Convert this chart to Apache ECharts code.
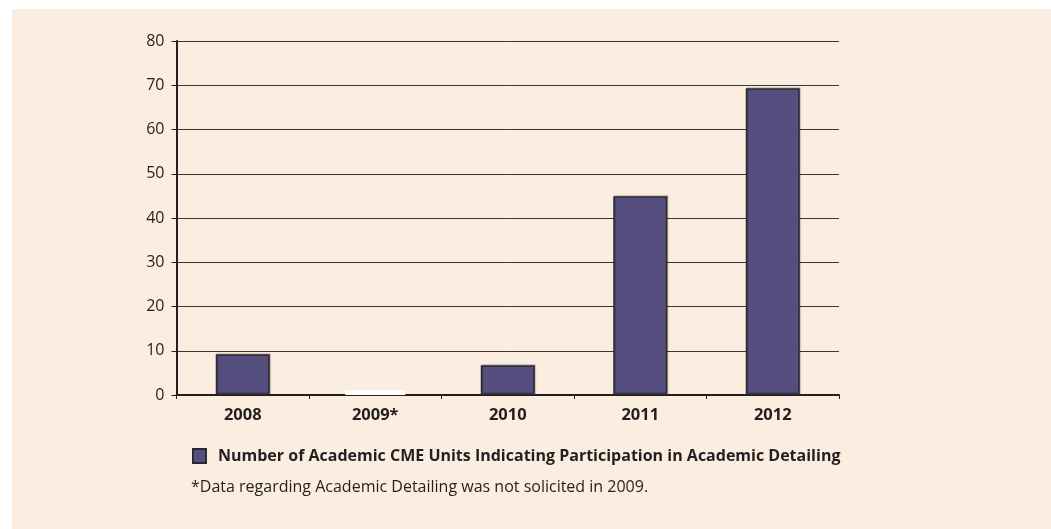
<!DOCTYPE html>
<html>
<head>
<meta charset="utf-8">
<script src="https://cdn.jsdelivr.net/npm/echarts@6/dist/echarts.min.js"></script>
<style>
  html, body { margin: 0; padding: 0; background: #ffffff; }
  #chart { width: 1051px; height: 529px; }
</style>
</head>
<body>
<div id="chart"></div>
<script>
// Academic CME units reporting participation in academic detailing, by year
const years = ['2008', '2009*', '2010', '2011', '2012'];
const units = [9.2, null, 6.7, 44.9, 69.3];
// 2009 was not surveyed; a blank placeholder bar sits on the axis
const placeholder = [null, 1.1, null, null, null];
const yTicks = { min: 0, max: 80, interval: 10 };
const seriesName = 'Number of Academic CME Units Indicating Participation in Academic Detailing';
const footnote = '*Data regarding Academic Detailing was not solicited in 2009.';

const ink = '#231f20';
const barFill = '#544f7e';
const font = 'Open Sans';

const chart = echarts.init(document.getElementById('chart'));
chart.setOption({
  animation: false,
  backgroundColor: '#ffffff',
  textStyle: { fontFamily: font },
  graphic: [
    {
      type: 'rect', z: -10, silent: true,
      shape: { x: 12, y: 9, width: 1051, height: 529 },
      style: { fill: '#fcede1' }
    },
    {
      type: 'text', left: 191, top: 479,
      style: { text: footnote, font: '16px "Open Sans"', fill: ink }
    }
  ],
  legend: {
    data: [seriesName],
    left: 187, top: 443,
    itemWidth: 13, itemHeight: 14, itemGap: 8,
    icon: 'rect',
    textStyle: { fontSize: 16, fontWeight: 'bold', color: ink, fontFamily: font, padding: [0, 0, 0, 7] }
  },
  grid: { left: 176.5, right: 212, top: 41, bottom: 134, containLabel: false },
  xAxis: [
    {
      type: 'category',
      data: years,
      axisLine: { lineStyle: { color: ink, width: 2 } },
      axisTick: { show: true, length: 4, lineStyle: { color: ink, width: 1 } },
      axisLabel: { fontSize: 16.5, fontWeight: 'bold', color: ink, margin: 12 }
    },
    {
      // hidden twin axis so the placeholder bar is laid out independently
      type: 'category',
      data: years,
      position: 'bottom',
      show: false
    }
  ],
  yAxis: {
    type: 'value',
    min: yTicks.min, max: yTicks.max, interval: yTicks.interval,
    axisLine: { show: true, lineStyle: { color: ink, width: 2 } },
    axisTick: { show: true, length: 5, lineStyle: { color: ink, width: 1 } },
    axisLabel: { fontSize: 16, color: ink, margin: 12 },
    splitLine: { lineStyle: { color: '#3a3536', width: 1 } }
  },
  series: [
    {
      name: seriesName,
      type: 'bar',
      data: units,
      barWidth: 54,
      itemStyle: {
        color: barFill, borderColor: '#2b2a2e', borderWidth: 1.5,
        shadowColor: 'rgba(0,0,0,0.25)', shadowOffsetX: 1, shadowOffsetY: -1, shadowBlur: 1
      },
      z: 3
    },
    {
      name: 'placeholder',
      type: 'bar',
      xAxisIndex: 1,
      data: placeholder,
      barWidth: 60,
      itemStyle: { color: '#ffffff', borderWidth: 0 },
      z: 1
    }
  ]
});
</script>
</body>
</html>
